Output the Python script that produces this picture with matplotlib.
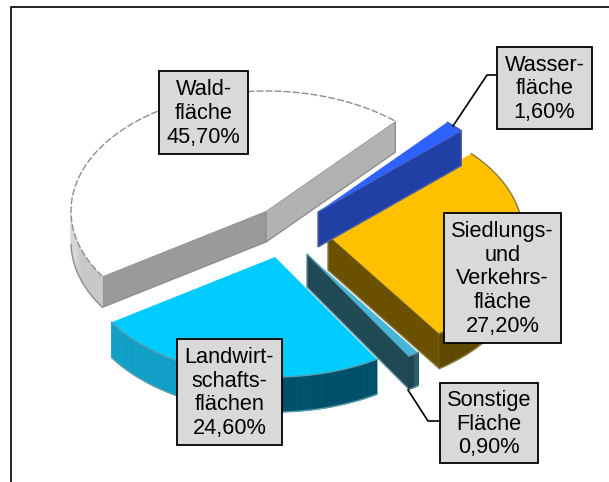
import numpy as np
import matplotlib
matplotlib.use("Agg")
import matplotlib.pyplot as plt
from matplotlib.patches import Polygon, Rectangle
from matplotlib.colors import to_rgb

plt.rcParams['font.family'] = ['Liberation Sans', 'DejaVu Sans']

# --- data ---
categories = ["Siedlung", "Sonstige", "Landwirtschaft", "Wald", "Wasser"]
values = [27.2, 0.9, 24.6, 45.7, 1.6]
label_texts = ["Siedlungs-\nund\nVerkehrs-\nfläche\n27,20%",
               "Sonstige\nFläche\n0,90%",
               "Landwirt-\nschafts-\nflächen\n24,60%",
               "Wald-\nfläche\n45,70%",
               "Wasser-\nfläche\n1,60%"]

# --- layout / style ---
W, H = 609, 482
RX, RY = 195, 120
START = -42.7
DEPTH = [35, 33, 35, 31, 35]
CENTERS = [(328, 235), (307, 254), (275, 257), (266, 211), (318, 212)]
TOPS = ["#FFC000", "#45B5D8", "#00CCFF", "#FFFFFF", "#2E62FF"]
SIDE0 = ["#6B5000", "#1F4A55", "#00506A", "#9A9A9A", "#2040A5"]
SIDE1 = ["#6B5000", "#1F4A55", "#00506A", "#B2B2B2", "#2040A5"]
ARC0 = ["#7A5C00", "#2A5F70", "#00506A", "#C8C8C8", "#2040A5"]
ARC1 = ["#5E4700", "#1D4450", "#0F9FC6", "#D6D6D6", "#2040A5"]
EDGE = ["#8A7A40", "#5F8A96", "#5A9DB0", "#8E8E8E", "#5060A0"]
ORDER = [3, 4, 0, 2, 1]
BOXES = [(444, 213, 561, 343), (440, 383, 538, 463), (177, 339, 282, 445),
         (159, 71, 248, 154), (497, 47, 592, 129)]
LEADERS = [None, [(408, 390), (428, 421), (440, 421)], None, None,
           [(497, 75), (487, 75), (453, 126)]]

fig = plt.figure(figsize=(W / 100, H / 100), dpi=100, facecolor="white")
ax = fig.add_axes([0, 0, 1, 1])
ax.set_xlim(0, W)
ax.set_ylim(H, 0)
ax.axis("off")

edges = START + np.concatenate([[0], np.cumsum(values)]) * 3.6


def point(c, t, dz=0):
    r = np.radians(t)
    return np.array([c[0] + RX * np.cos(r), c[1] + RY * np.sin(r) + dz])


def lerp(a, b, f):
    a, b = np.array(to_rgb(a)), np.array(to_rgb(b))
    return tuple(a + (b - a) * f)


for i in ORDER:
    c, d = CENTERS[i], DEPTH[i]
    t0, t1 = edges[i], edges[i + 1]
    apex = np.array(c, float)
    # radial side walls that face the viewer
    if np.cos(np.radians(t0)) < 0:
        p = point(c, t0)
        ax.add_patch(Polygon([apex, p, p + [0, d], apex + [0, d]], closed=True,
                             fc=SIDE0[i], ec=EDGE[i], lw=1, zorder=i * 5 + 1))
    if np.cos(np.radians(t1)) > 0:
        p = point(c, t1)
        ax.add_patch(Polygon([apex, p, p + [0, d], apex + [0, d]], closed=True,
                             fc=SIDE1[i], ec=EDGE[i], lw=1, zorder=i * 5 + 1))
    # outer wall (only the near half of the rim), shaded facet by facet
    vis = [t for t in np.linspace(t0, t1, 120) if np.sin(np.radians(t)) > 0]
    if len(vis) > 1:
        for k in range(len(vis) - 1):
            p, q = point(c, vis[k]), point(c, vis[k + 1])
            f = k / max(len(vis) - 2, 1)
            f = float(np.clip((f - 0.45) / 0.2, 0, 1))
            col = lerp(ARC0[i], ARC1[i], f)
            ax.add_patch(Polygon([p, q, q + [0, d], p + [0, d]], closed=True,
                                 fc=col, ec=col, lw=0.6, zorder=i * 5 + 2))
        low = np.array([point(c, t, d) for t in vis])
        ax.plot(low[:, 0], low[:, 1], color=EDGE[i], lw=1, zorder=i * 5 + 3)
    # top face
    ts = np.linspace(t0, t1, 120)
    pts = [apex] + [point(c, t) for t in ts]
    ax.add_patch(Polygon(pts, closed=True, fc=TOPS[i], ec="none", zorder=i * 5 + 4))
    arc = np.array(pts[1:])
    ax.plot(arc[:, 0], arc[:, 1], color=EDGE[i], lw=1,
            ls=(0, (5, 1.5)) if i == 3 else "-", zorder=i * 5 + 4)

for poly in LEADERS:
    if poly:
        xy = np.array(poly)
        ax.plot(xy[:, 0], xy[:, 1], color="black", lw=1.2, zorder=50)

for (x0, y0, x1, y1), txt in zip(BOXES, label_texts):
    ax.add_patch(Rectangle((x0, y0), x1 - x0, y1 - y0, fc="#D9D9D9", ec="black",
                           lw=1.3, zorder=60))
    ax.text((x0 + x1) / 2, (y0 + y1) / 2 + 1, txt, ha="center", va="center",
            fontsize=15.7, linespacing=1.17, color="black", zorder=61)

# outer chart frame: left and top rules only
ax.plot([11, 11, W], [H, 7, 7], color="#222222", lw=1.4, zorder=70, clip_on=False)

fig.savefig("out.png", dpi=100, facecolor="white")
